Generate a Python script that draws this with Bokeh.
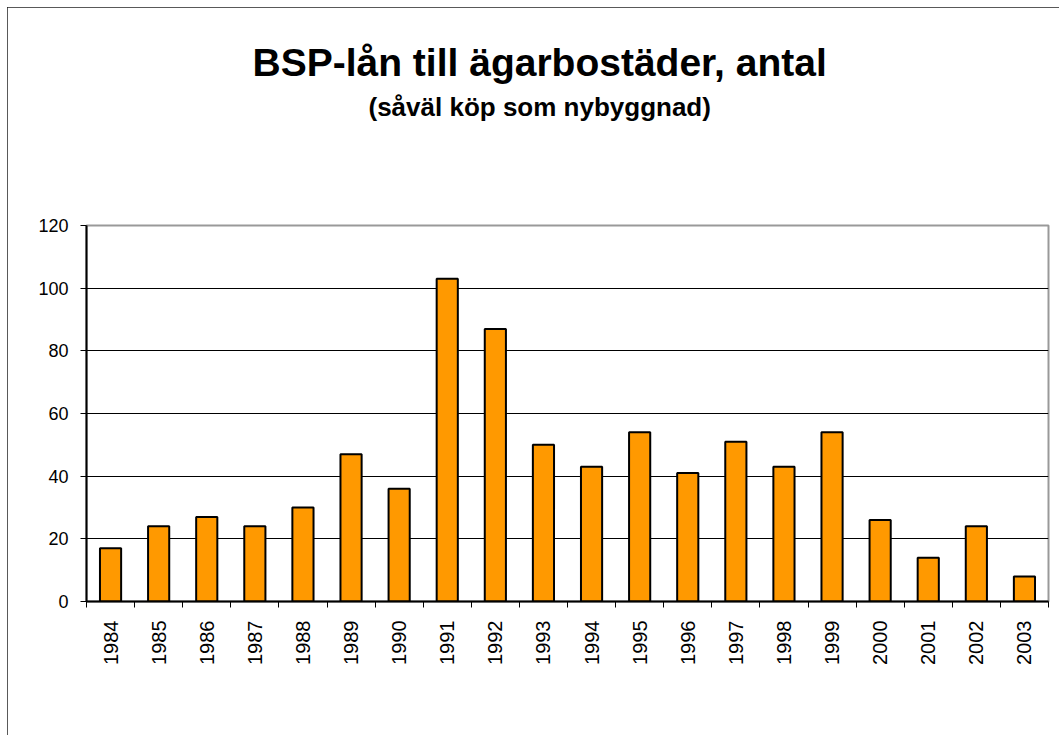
import math
from bokeh.plotting import figure
from bokeh.models import Range1d, FixedTicker, Title, ColumnDataSource
from bokeh.embed import file_html
from bokeh.resources import INLINE

years = ["1984", "1985", "1986", "1987", "1988", "1989", "1990", "1991", "1992", "1993",
         "1994", "1995", "1996", "1997", "1998", "1999", "2000", "2001", "2002", "2003"]
counts = [17, 24, 27, 24, 30, 47, 36, 103, 87, 50,
          43, 54, 41, 51, 43, 54, 26, 14, 24, 8]
y_ticks = [0, 20, 40, 60, 80, 100, 120]
title_text = "BSP-lån till ägarbostäder, antal"
subtitle_text = "(såväl köp som nybyggnad)"

FONT = "Liberation Sans"

centers = [i + 0.5 for i in range(len(years))]
bounds = [float(i) for i in range(len(years) + 1)]
src = ColumnDataSource(dict(x=centers, year=years, count=counts))

p = figure(width=1052, height=728, output_backend="svg", toolbar_location=None,
           x_range=Range1d(0, len(years)), y_range=Range1d(0, 120),
           min_border_left=79, min_border_right=11, min_border_top=218, min_border_bottom=134)
p.styles = {"margin-left": "7px", "margin-top": "7px",
            "outline": "2px solid #222222", "outline-offset": "-2px"}

p.vbar(x="x", top="count", width=0.44, source=src,
       fill_color="#FF9900", line_color="black", line_width=2)

# y axis
p.yaxis.ticker = FixedTicker(ticks=y_ticks)
p.yaxis.axis_line_color = "black"
p.yaxis.axis_line_width = 2
p.yaxis.major_tick_out = 6
p.yaxis.major_tick_in = 0
p.yaxis.major_tick_line_color = "black"
p.yaxis.minor_tick_line_color = None
p.yaxis.major_label_standoff = 12
p.yaxis.major_label_text_font = FONT
p.yaxis.major_label_text_font_size = "18px"
p.yaxis.major_label_text_color = "black"

# x axis
p.xaxis.ticker = FixedTicker(ticks=centers, minor_ticks=bounds)
p.xaxis.major_label_overrides = {c: y for c, y in zip(centers, years)}
p.xaxis.major_label_orientation = math.pi / 2
p.xaxis.axis_line_color = "black"
p.xaxis.axis_line_width = 2
p.xaxis.major_tick_line_color = None
p.xaxis.major_tick_out = 0
p.xaxis.major_tick_in = 0
p.xaxis.minor_tick_line_color = "black"
p.xaxis.minor_tick_out = 6
p.xaxis.minor_tick_in = 0
p.xaxis.major_label_standoff = 13
p.xaxis.major_label_text_font = FONT
p.xaxis.major_label_text_font_size = "20px"
p.xaxis.major_label_text_color = "black"

# grid
p.xgrid.grid_line_color = None
p.ygrid.ticker = FixedTicker(ticks=y_ticks[1:-1])
p.ygrid.grid_line_color = "black"
p.ygrid.grid_line_width = 1

p.outline_line_color = "#999999"
p.outline_line_width = 2
p.background_fill_color = "white"
p.border_fill_color = "white"

# spacer between plot area and subtitle, then subtitle, then main title
p.add_layout(Title(text=" ", standoff=89, text_font_size="10px"), "above")
p.add_layout(Title(text=subtitle_text, align="left", offset=282, standoff=4,
                   text_font=FONT, text_font_style="bold", text_font_size="26px",
                   text_color="black"), "above")
p.add_layout(Title(text=title_text, align="left", offset=166, standoff=8,
                   text_font=FONT, text_font_style="bold", text_font_size="39px",
                   text_color="black"), "above")

open("out.html", "w").write(file_html(p, INLINE))
